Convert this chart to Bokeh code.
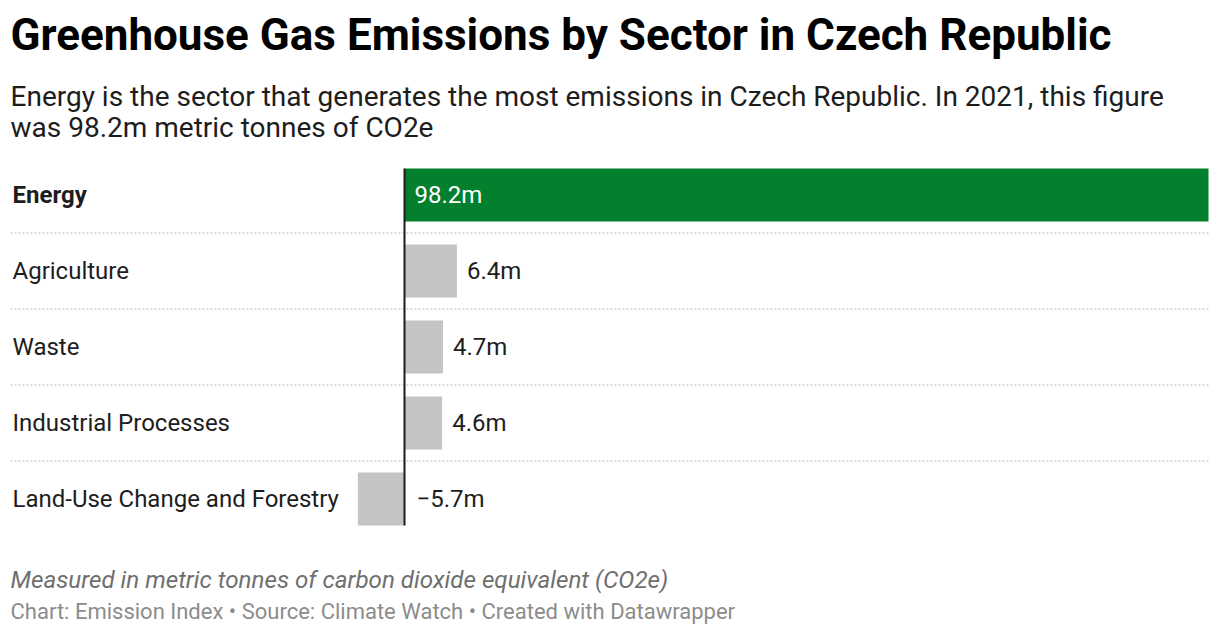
from bokeh.plotting import figure
from bokeh.models import ColumnDataSource, Range1d, Label
from bokeh.embed import file_html
from bokeh.resources import INLINE
from bokeh.core.properties import value

# data (million metric tonnes CO2e, 2021)
sectors = ["Energy", "Agriculture", "Waste", "Industrial Processes", "Land-Use Change and Forestry"]
emissions = [98.2, 6.4, 4.7, 4.6, -5.7]

title = "Greenhouse Gas Emissions by Sector in Czech Republic"
subtitle = ["Energy is the sector that generates the most emissions in Czech Republic. In 2021, this figure",
            "was 98.2m metric tonnes of CO2e"]
note = "Measured in metric tonnes of carbon dioxide equivalent (CO2e)"
credits = "Chart: Emission Index \u2022 Source: Climate Watch \u2022 Created with Datawrapper"

W, H = 1214, 632
px = 804 / max(emissions)   # pixels per unit
zero_px = 404                # zero line position in the frame
row_px = 76                  # row pitch
first_row_px = 194.5         # centre of first row from top

p = figure(width=W, height=H, output_backend="svg", toolbar_location=None,
           x_range=Range1d(-zero_px / px, (W - zero_px) / px),
           y_range=Range1d(first_row_px / row_px - H / row_px, first_row_px / row_px),
           min_border=0)
p.axis.visible = False
p.grid.visible = False
p.outline_line_color = None
p.background_fill_color = "white"
p.border_fill_color = "white"

n = len(sectors)
ys = [-i for i in range(n)]
bar_h = 53 / row_px
fmt = lambda v: ("\u2212" if v < 0 else "") + f"{abs(v):.1f}m"

src = ColumnDataSource(dict(
    y=ys,
    v=emissions,
    c=["#03802e" if i == 0 else "#c4c4c4" for i in range(n)],
    lab=[fmt(v) for v in emissions],
    lx=[0 if (i == 0 or v < 0) else v for i, v in enumerate(emissions)],
    lo=[10 if v >= 0 else 12 for v in emissions],
    tc=["white" if i == 0 else "#1d1d1d" for i in range(n)],
))

p.hbar(y="y", left=0, right="v", height=bar_h, fill_color="c", line_color=None, source=src)

# dotted row separators
sep_y = [y - 0.5 for y in ys[:-1]]
x_left = p.x_range.start + 10 / px
p.segment(x0=[x_left] * len(sep_y), x1=[max(emissions)] * len(sep_y), y0=sep_y, y1=sep_y,
          line_color="#cfcfcf", line_width=1.5, line_dash="2 2")

# zero line
p.segment(x0=[0], x1=[0], y0=[ys[0] + bar_h / 2], y1=[ys[-1] - bar_h / 2],
          line_color="#1d1d1d", line_width=2)

# value labels
p.text(x="lx", y="y", text="lab", x_offset="lo", text_color="tc", source=src,
       text_font=value("Roboto"), text_font_size="24px", text_baseline="middle", text_align="left")

# category labels
lab_x = p.x_range.start + 12 / px
p.text(x=[lab_x], y=ys[:1], text=sectors[:1], text_font=value("Roboto"), text_font_style="bold",
       text_font_size="24px", text_baseline="middle", text_color="#1d1d1d")
p.text(x=[lab_x] * (n - 1), y=ys[1:], text=sectors[1:], text_font=value("Roboto"),
       text_font_size="24px", text_baseline="middle", text_color="#1d1d1d")

# title, description and footer
p.add_layout(Label(x=10, y=H - 34, x_units="screen", y_units="screen", text=title,
                   text_font="Roboto", text_font_style="bold", text_font_size="44px",
                   text_color="#000000", text_baseline="alphabetic"))
for i, line in enumerate(subtitle):
    p.add_layout(Label(x=10, y=H - 96 - 31 * i, x_units="screen", y_units="screen", text=line,
                       text_font="Roboto", text_font_size="28px", text_color="#1d1d1d",
                       text_baseline="alphabetic"))
p.add_layout(Label(x=10, y=H - 579, x_units="screen", y_units="screen", text=note,
                   text_font="Roboto", text_font_style="italic", text_font_size="24.2px",
                   text_color="#6f6f6f", text_baseline="alphabetic"))
p.add_layout(Label(x=10, y=H - 611, x_units="screen", y_units="screen", text=credits,
                   text_font="Roboto", text_font_size="22px", text_color="#8c8c8c",
                   text_baseline="alphabetic"))

open("out.html", "w").write(file_html(p, INLINE))
